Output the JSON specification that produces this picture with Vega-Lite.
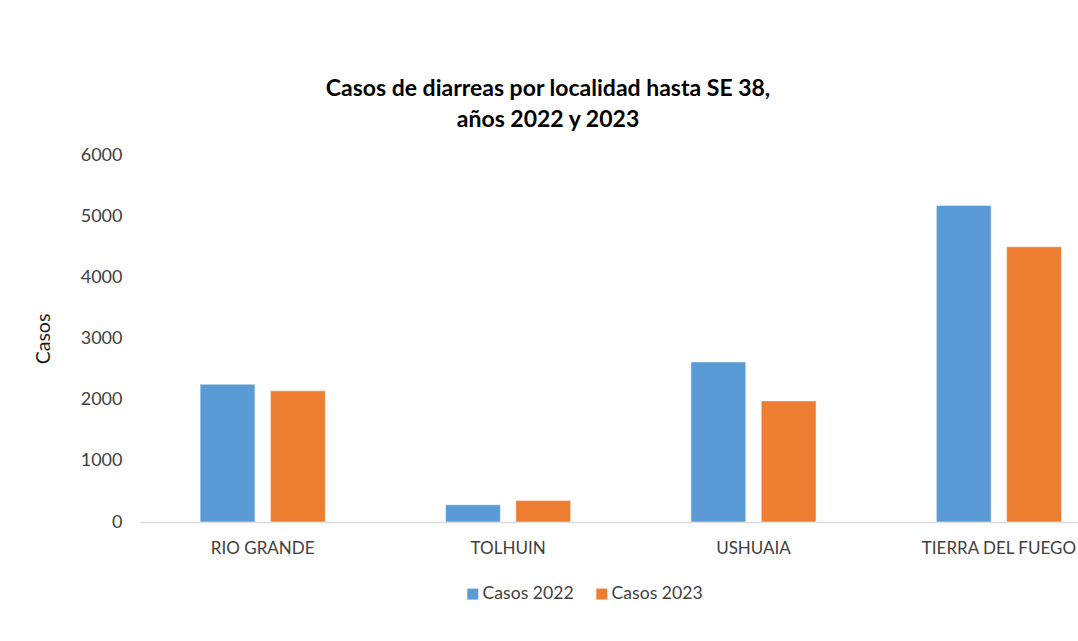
{
  "$schema": "https://vega.github.io/schema/vega-lite/v6.json",
  "autosize": {"type": "none"},
  "width": 938,
  "height": 367,
  "padding": {"left": 140, "top": 155, "right": 0, "bottom": 119},
  "background": "white",
  "title": {
    "text": ["Casos de diarreas por localidad hasta SE 38,", "años 2022 y 2023"],
    "anchor": "middle",
    "frame": "group",
    "dx": -61,
    "offset": 14,
    "font": "Lato",
    "fontSize": 23,
    "fontWeight": "bold",
    "color": "#000000",
    "lineHeight": 31
  },
  "data": {
    "values": [
      {"localidad": "RIO GRANDE", "serie": "Casos 2022", "casos": 2253},
      {"localidad": "RIO GRANDE", "serie": "Casos 2023", "casos": 2144},
      {"localidad": "TOLHUIN", "serie": "Casos 2022", "casos": 282},
      {"localidad": "TOLHUIN", "serie": "Casos 2023", "casos": 353},
      {"localidad": "USHUAIA", "serie": "Casos 2022", "casos": 2617},
      {"localidad": "USHUAIA", "serie": "Casos 2023", "casos": 1980},
      {"localidad": "TIERRA DEL FUEGO", "serie": "Casos 2022", "casos": 5176},
      {"localidad": "TIERRA DEL FUEGO", "serie": "Casos 2023", "casos": 4500}
    ]
  },
  "mark": {"type": "bar", "stroke": "white", "strokeOpacity": 0.5, "strokeWidth": 1},
  "encoding": {
    "x": {
      "field": "localidad",
      "type": "nominal",
      "sort": ["RIO GRANDE", "TOLHUIN", "USHUAIA", "TIERRA DEL FUEGO"],
      "scale": {"range": [0, 981.6], "paddingInner": 0.49, "paddingOuter": 0.245},
      "axis": {
        "title": null,
        "labelAngle": 0,
        "ticks": false,
        "domainColor": "#D9D9D9",
        "domainWidth": 1.5,
        "labelFont": "Lato",
        "labelFontSize": 17,
        "labelColor": "#404040",
        "labelPadding": 18
      }
    },
    "xOffset": {
      "field": "serie",
      "type": "nominal",
      "scale": {"paddingInner": 0.22, "paddingOuter": 0}
    },
    "y": {
      "field": "casos",
      "type": "quantitative",
      "scale": {"domain": [0, 6000], "nice": false},
      "axis": {
        "title": "Casos",
        "values": [0, 1000, 2000, 3000, 4000, 5000, 6000],
        "format": "d",
        "grid": false,
        "domain": false,
        "ticks": false,
        "labelFont": "Lato",
        "labelFontSize": 18,
        "labelColor": "#404040",
        "labelPadding": 18,
        "titleFont": "Lato",
        "titleFontSize": 19.5,
        "titleFontWeight": "normal",
        "titleColor": "#1a1a1a",
        "titleAngle": -90,
        "titleX": -97,
        "titleY": 183.5,
        "titleAlign": "center",
        "titleBaseline": "middle"
      }
    },
    "color": {
      "field": "serie",
      "type": "nominal",
      "scale": {"domain": ["Casos 2022", "Casos 2023"], "range": ["#5B9BD5", "#ED7D31"]},
      "legend": {
        "title": null,
        "orient": "none",
        "direction": "horizontal",
        "legendX": 324,
        "legendY": 430,
        "symbolType": "square",
        "symbolSize": 121,
        "symbolStrokeWidth": 0,
        "labelFont": "Lato",
        "labelFontSize": 17.6,
        "labelColor": "#404040",
        "columnPadding": 19,
        "labelOffset": 1
      }
    }
  },
  "config": {"view": {"stroke": null}}
}
